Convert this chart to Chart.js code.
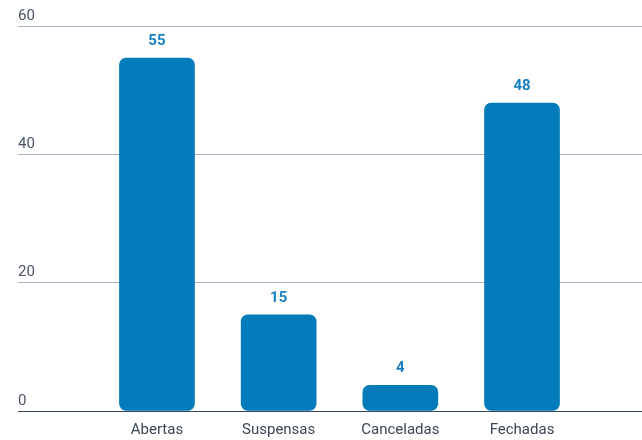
<!DOCTYPE html>
<html>
<head>
<meta charset="utf-8">
<script src="https://cdn.jsdelivr.net/npm/chart.js@4"></script>
<style>
    html, body { margin: 0; padding: 0; background: #ffffff; }
    #wrap { width: 642px; height: 440px; }
</style>
</head>
<body>
<div id="wrap"><canvas id="statusChart"></canvas></div>
<script>
// Chart data
const categories = ['Abertas', 'Suspensas', 'Canceladas', 'Fechadas'];
const counts = [55, 15, 4, 48];
const yTicks = [0, 20, 40, 60];

// Draw the value above each bar
const valueLabels = {
    id: 'valueLabels',
    afterDatasetsDraw(chart) {
        const ctx = chart.ctx;
        const meta = chart.getDatasetMeta(0);
        ctx.save();
        ctx.font = "bold 15px Roboto, sans-serif";
        ctx.fillStyle = '#1a80c0';
        ctx.textAlign = 'center';
        ctx.textBaseline = 'middle';
        meta.data.forEach((bar, i) => {
            ctx.fillText(String(counts[i]), bar.x, bar.y - 17);
        });
        ctx.restore();
    }
};

const ctx = document.getElementById('statusChart').getContext('2d');

new Chart(ctx, {
    type: 'bar',
    data: {
        datasets: [{
            data: counts.map((v, i) => ({ x: i, y: v })),
            backgroundColor: '#017bba',
            borderRadius: 7,
            borderSkipped: false,
            barThickness: 75
        }]
    },
    options: {
        responsive: true,
        maintainAspectRatio: false,
        animation: false,
        layout: {
            padding: { top: 26, left: 18, right: 0, bottom: -9 }
        },
        plugins: {
            legend: { display: false },
            tooltip: { enabled: false }
        },
        scales: {
            x: {
                type: 'linear',
                offset: false,
                min: -1.142,
                max: 3.986,
                afterBuildTicks: function(scale) {
                    scale.ticks = categories.map((c, i) => ({ value: i }));
                },
                ticks: {
                    padding: 10,
                    color: '#3c4654',
                    font: { family: 'Roboto', size: 15 },
                    maxRotation: 0,
                    autoSkip: false,
                    callback: function(value) {
                        return categories[value];
                    }
                },
                grid: { display: false, drawTicks: false, offset: false },
                border: { display: false }
            },
            y: {
                min: yTicks[0],
                max: yTicks[yTicks.length - 1],
                afterBuildTicks: function(scale) {
                    scale.ticks = yTicks.map(v => ({ value: v }));
                },
                ticks: {
                    mirror: true,
                    padding: 0,
                    labelOffset: -10,
                    color: '#4a5565',
                    font: { family: 'Roboto', size: 15 }
                },
                grid: {
                    drawTicks: false,
                    color: function(c) {
                        return c.tick && c.tick.value === 0 ? '#37475a' : '#b0b0c4';
                    }
                },
                border: { display: false }
            }
        }
    },
    plugins: [valueLabels]
});
</script>
</body>
</html>
